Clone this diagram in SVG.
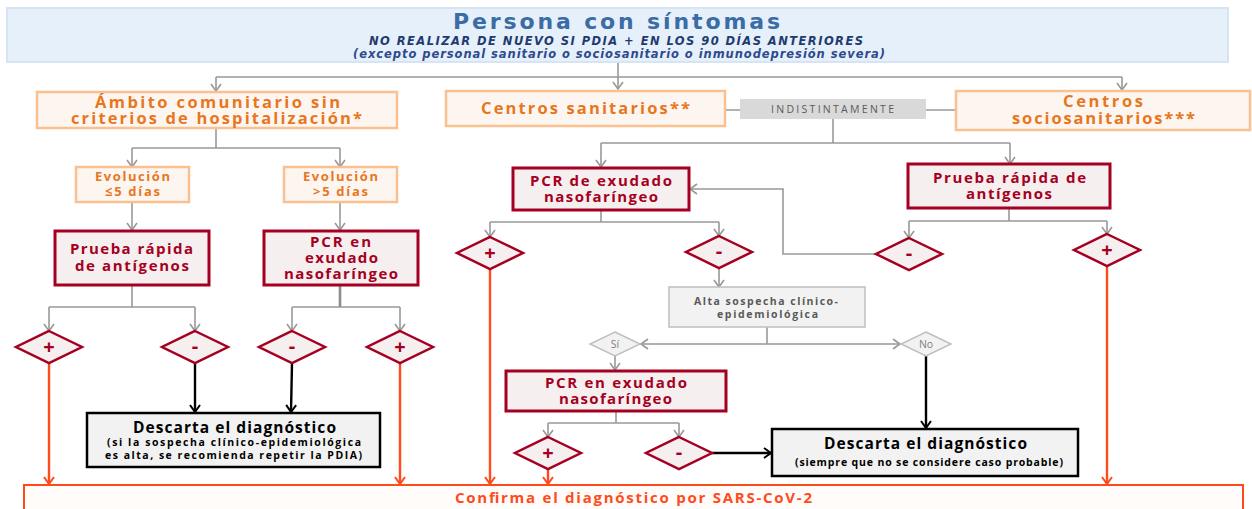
<svg xmlns="http://www.w3.org/2000/svg" width="1252" height="509" viewBox="0 0 1252 509">
<defs>
<style>
.t{font-family:"Open Sans","Liberation Sans",sans-serif;font-weight:bold}
.vd{font-family:"DejaVu Sans","Liberation Sans",sans-serif;font-weight:bold}
.or{fill:#E8761E;font-size:16.5px}
.ev{fill:#E8761E;font-size:13px}
.rd{fill:#A50021;font-size:15px}
.bk{fill:#000;font-size:15.5px}
.sm{fill:#000;font-size:10.5px}
.gy{fill:#595959;font-size:10.5px}
.sym{fill:#A50021;font-size:20px;text-anchor:middle}
.obox{fill:#FDF6F0;stroke:#FAC08F;stroke-width:2.5}
.rbox{fill:#F6EFF0;stroke:#A50021;stroke-width:3}
.rdia{fill:#F6EFF0;stroke:#A50021;stroke-width:2.5}
.gdia{fill:#F2F2F2;stroke:#BFBFBF;stroke-width:1.5}
.dbox{fill:#F2F2F2;stroke:#000;stroke-width:2.5}
.g{fill:none;stroke:#999;stroke-width:1.6}
.gt{fill:none;stroke:#8C8C8C;stroke-width:2.6}
.k{fill:none;stroke:#000;stroke-width:2.4}
.r{fill:none;stroke:#FF4A1C;stroke-width:2.4}
</style>
<marker id="ag" viewBox="0 0 12 12" refX="11" refY="6" markerWidth="12" markerHeight="12" orient="auto" markerUnits="userSpaceOnUse"><path d="M4,1 L11,6 L4,11" fill="none" stroke="#999" stroke-width="1.6"/></marker>
<marker id="ak" viewBox="0 0 12 12" refX="11" refY="6" markerWidth="12" markerHeight="12" orient="auto" markerUnits="userSpaceOnUse"><path d="M4,1 L11,6 L4,11" fill="none" stroke="#000" stroke-width="2"/></marker>
<marker id="ar" viewBox="0 0 12 12" refX="11" refY="6" markerWidth="12" markerHeight="12" orient="auto" markerUnits="userSpaceOnUse"><path d="M4,1 L11,6 L4,11" fill="none" stroke="#FF4A1C" stroke-width="2"/></marker>
</defs>
<rect width="1252" height="509" fill="#fff"/>

<g id="connectors">
<path class="g" d="M618,62 V89" marker-end="url(#ag)"/>
<path class="g" d="M216,77 H1122"/>
<path class="g" d="M216,77 V91" marker-end="url(#ag)"/>
<path class="g" d="M1122,77 V90" marker-end="url(#ag)"/>
<path class="g" d="M216,128 V148 M132,148 H340"/>
<path class="g" d="M132,148 V167" marker-end="url(#ag)"/>
<path class="g" d="M340,148 V167" marker-end="url(#ag)"/>
<path class="g" d="M132,202 V230" marker-end="url(#ag)"/>
<path class="g" d="M340,202 V230" marker-end="url(#ag)"/>
<path class="g" d="M132,285 V307 M49,307 H195"/>
<path class="g" d="M49,307 V331" marker-end="url(#ag)"/>
<path class="g" d="M195,307 V331" marker-end="url(#ag)"/>
<path class="gt" d="M340,285 V307"/>
<path class="g" d="M292,307 H400"/>
<path class="g" d="M292,307 V331" marker-end="url(#ag)"/>
<path class="g" d="M400,307 V331" marker-end="url(#ag)"/>
<path class="g" d="M725,110 H740 M926,110 H956 M833,119 V143 M601,143 H1010"/>
<path class="g" d="M601,143 V167" marker-end="url(#ag)"/>
<path class="g" d="M1010,143 V164" marker-end="url(#ag)"/>
<path class="g" d="M601,210 V222 M490,222 H719"/>
<path class="g" d="M490,222 V237" marker-end="url(#ag)"/>
<path class="g" d="M719,222 V236" marker-end="url(#ag)"/>
<path class="g" d="M719,268 V287" marker-end="url(#ag)"/>
<path class="g" d="M877,254 H783 V189 H690" marker-end="url(#ag)"/>
<path class="g" d="M1009,208 V221 M909,221 H1107"/>
<path class="g" d="M909,221 V238" marker-end="url(#ag)"/>
<path class="g" d="M1107,221 V234" marker-end="url(#ag)"/>
<path class="g" d="M767,327 V344"/>
<path class="g" d="M767,344 H641" marker-end="url(#ag)"/>
<path class="g" d="M767,344 H900" marker-end="url(#ag)"/>
<path class="g" d="M615,356 V370" marker-end="url(#ag)"/>
<path class="g" d="M616,411 V423 M548,423 H679"/>
<path class="g" d="M548,423 V437" marker-end="url(#ag)"/>
<path class="g" d="M679,423 V437" marker-end="url(#ag)"/>
<path class="k" d="M195,363 V412" marker-end="url(#ak)"/>
<path class="k" d="M292,363 L291,412" marker-end="url(#ak)"/>
<path class="k" d="M926,356 V428" marker-end="url(#ak)"/>
<path class="k" d="M712,453 H771" marker-end="url(#ak)"/>
<path class="r" d="M49,363 V484" marker-end="url(#ar)"/>
<path class="r" d="M400,363 V484" marker-end="url(#ar)"/>
<path class="r" d="M490,269 V484" marker-end="url(#ar)"/>
<path class="r" d="M548,469 V484" marker-end="url(#ar)"/>
<path class="r" d="M1107,266 V484" marker-end="url(#ar)"/>
</g>

<g id="header">
<rect x="7" y="8" width="1221" height="54" fill="#E6F0FA" stroke="#D6E4F4" stroke-width="2"/>
<text class="vd" x="453" y="29" font-size="22" fill="#3A6CA5" textLength="327">Persona con síntomas</text>
<text class="vd" font-size="11.5" font-style="italic" fill="#1F3B70"><tspan x="369" y="45" textLength="494">NO REALIZAR DE NUEVO SI PDIA + EN LOS 90 DÍAS ANTERIORES</tspan><tspan x="353" y="58" fill="#2D4A8C" textLength="532">(excepto personal sanitario o sociosanitario o inmunodepresión severa)</tspan></text>
</g>

<g id="ambito">
<rect class="obox" x="37" y="92" width="360" height="36"/>
<text class="t or"><tspan x="95" y="108" textLength="245">Ámbito comunitario sin</tspan><tspan x="71" y="124" textLength="291">criterios de hospitalización*</tspan></text>
</g>

<g id="centros-sanitarios">
<rect class="obox" x="446" y="91" width="279" height="35"/>
<text class="t or" x="481" y="114" textLength="209">Centros sanitarios**</text>
</g>

<g id="indistintamente">
<rect x="740" y="99" width="186" height="20" fill="#D9D9D9"/>
<text x="771" y="113" font-family="'Open Sans','Liberation Sans',sans-serif" font-size="10.5" fill="#595959" textLength="123">INDISTINTAMENTE</text>
</g>

<g id="centros-sociosanitarios">
<rect class="obox" x="956" y="91" width="294" height="39"/>
<text class="t or"><tspan x="1063" y="107" textLength="80">Centros</tspan><tspan x="1012" y="124" textLength="183">sociosanitarios***</tspan></text>
</g>

<g id="evol-menos5">
<rect class="obox" x="76" y="167" width="113" height="35"/>
<text class="t ev"><tspan x="95" y="181" textLength="75">Evolución</tspan><tspan x="105" y="196" textLength="55">≤5 días</tspan></text>
</g>

<g id="evol-mas5">
<rect class="obox" x="284" y="167" width="113" height="35"/>
<text class="t ev"><tspan x="303" y="181" textLength="75">Evolución</tspan><tspan x="313" y="196" textLength="55">&gt;5 días</tspan></text>
</g>

<g id="prueba-izq">
<rect class="rbox" x="55" y="231" width="154" height="54"/>
<text class="t rd"><tspan x="70" y="254" textLength="123">Prueba rápida</tspan><tspan x="75" y="271" textLength="114">de antígenos</tspan></text>
</g>

<g id="pcr-izq">
<rect class="rbox" x="264" y="231" width="154" height="54"/>
<text class="t rd"><tspan x="310" y="247" textLength="61">PCR en</tspan><tspan x="305" y="263" textLength="73">exudado</tspan><tspan x="284" y="279" textLength="114">nasofaríngeo</tspan></text>
</g>

<g id="pcr-centro">
<rect class="rbox" x="513" y="168" width="176" height="42"/>
<text class="t rd"><tspan x="530" y="186" textLength="142">PCR de exudado</tspan><tspan x="544" y="202" textLength="114">nasofaríngeo</tspan></text>
</g>

<g id="prueba-der">
<rect class="rbox" x="908" y="164" width="202" height="44"/>
<text class="t rd"><tspan x="933" y="183" textLength="153">Prueba rápida de</tspan><tspan x="966" y="199" textLength="86">antígenos</tspan></text>
</g>

<g id="alta-sospecha">
<rect x="669" y="287" width="196" height="40" fill="#F2F2F2" stroke="#BFBFBF" stroke-width="1.5"/>
<text class="t gy"><tspan x="694" y="305" textLength="144">Alta sospecha clínico-</tspan><tspan x="717" y="318" textLength="101">epidemiológica</tspan></text>
</g>

<g id="si">
<polygon class="gdia" points="615,332 640,344 615,356 590,344"/>
<text x="615" y="348" text-anchor="middle" font-family="'Open Sans','Liberation Sans',sans-serif" font-size="10.5" fill="#7F7F7F">Sí</text>
</g>

<g id="no">
<polygon class="gdia" points="926,332 951,344 926,356 901,344"/>
<text x="926" y="348" text-anchor="middle" font-family="'Open Sans','Liberation Sans',sans-serif" font-size="10.5" fill="#7F7F7F">No</text>
</g>

<g id="pcr-abajo">
<rect class="rbox" x="506" y="371" width="220" height="40"/>
<text class="t rd"><tspan x="545" y="388" textLength="142">PCR en exudado</tspan><tspan x="559" y="404" textLength="113">nasofaríngeo</tspan></text>
</g>

<g id="d-l1"><polygon class="rdia" points="49,331 82,347 49,363 16,347"/><text class="t sym" x="49" y="354">+</text></g>
<g id="d-l2"><polygon class="rdia" points="195,331 228,347 195,363 162,347"/><text class="t sym" x="195" y="353">-</text></g>
<g id="d-l3"><polygon class="rdia" points="292,331 325,347 292,363 259,347"/><text class="t sym" x="292" y="353">-</text></g>
<g id="d-l4"><polygon class="rdia" points="400,331 433,347 400,363 367,347"/><text class="t sym" x="400" y="354">+</text></g>
<g id="d-m1"><polygon class="rdia" points="490,237 523,253 490,269 457,253"/><text class="t sym" x="490" y="260">+</text></g>
<g id="d-m2"><polygon class="rdia" points="719,236 752,252 719,268 686,252"/><text class="t sym" x="719" y="258">-</text></g>
<g id="d-r1"><polygon class="rdia" points="909,238 942,254 909,270 876,254"/><text class="t sym" x="909" y="260">-</text></g>
<g id="d-r2"><polygon class="rdia" points="1107,234 1140,250 1107,266 1074,250"/><text class="t sym" x="1107" y="257">+</text></g>
<g id="d-b1"><polygon class="rdia" points="548,437 581,453 548,469 515,453"/><text class="t sym" x="548" y="460">+</text></g>
<g id="d-b2"><polygon class="rdia" points="679,437 712,453 679,469 646,453"/><text class="t sym" x="679" y="459">-</text></g>

<g id="descarta-izq">
<rect class="dbox" x="87" y="413" width="293" height="54"/>
<text class="t bk" x="133" y="433" textLength="203">Descarta el diagnóstico</text>
<text class="t sm"><tspan x="107" y="446" textLength="254">(si la sospecha clínico-epidemiológica</tspan><tspan x="105" y="459" textLength="257">es alta, se recomienda repetir la PDIA)</tspan></text>
</g>

<g id="descarta-der">
<rect class="dbox" x="772" y="429" width="306" height="47"/>
<text class="t bk" x="824" y="449" textLength="203">Descarta el diagnóstico</text>
<text class="t sm" x="795" y="466" font-size="9.5" textLength="268">(siempre que no se considere caso probable)</text>
</g>

<g id="confirma">
<rect x="24" y="485" width="1219" height="30" fill="#FFFCFA" stroke="#FF4A1C" stroke-width="2"/>
<text class="t" x="455" y="503" font-size="15" fill="#FF4A1C" textLength="357">Confirma el diagnóstico por SARS-CoV-2</text>
</g>
</svg>
